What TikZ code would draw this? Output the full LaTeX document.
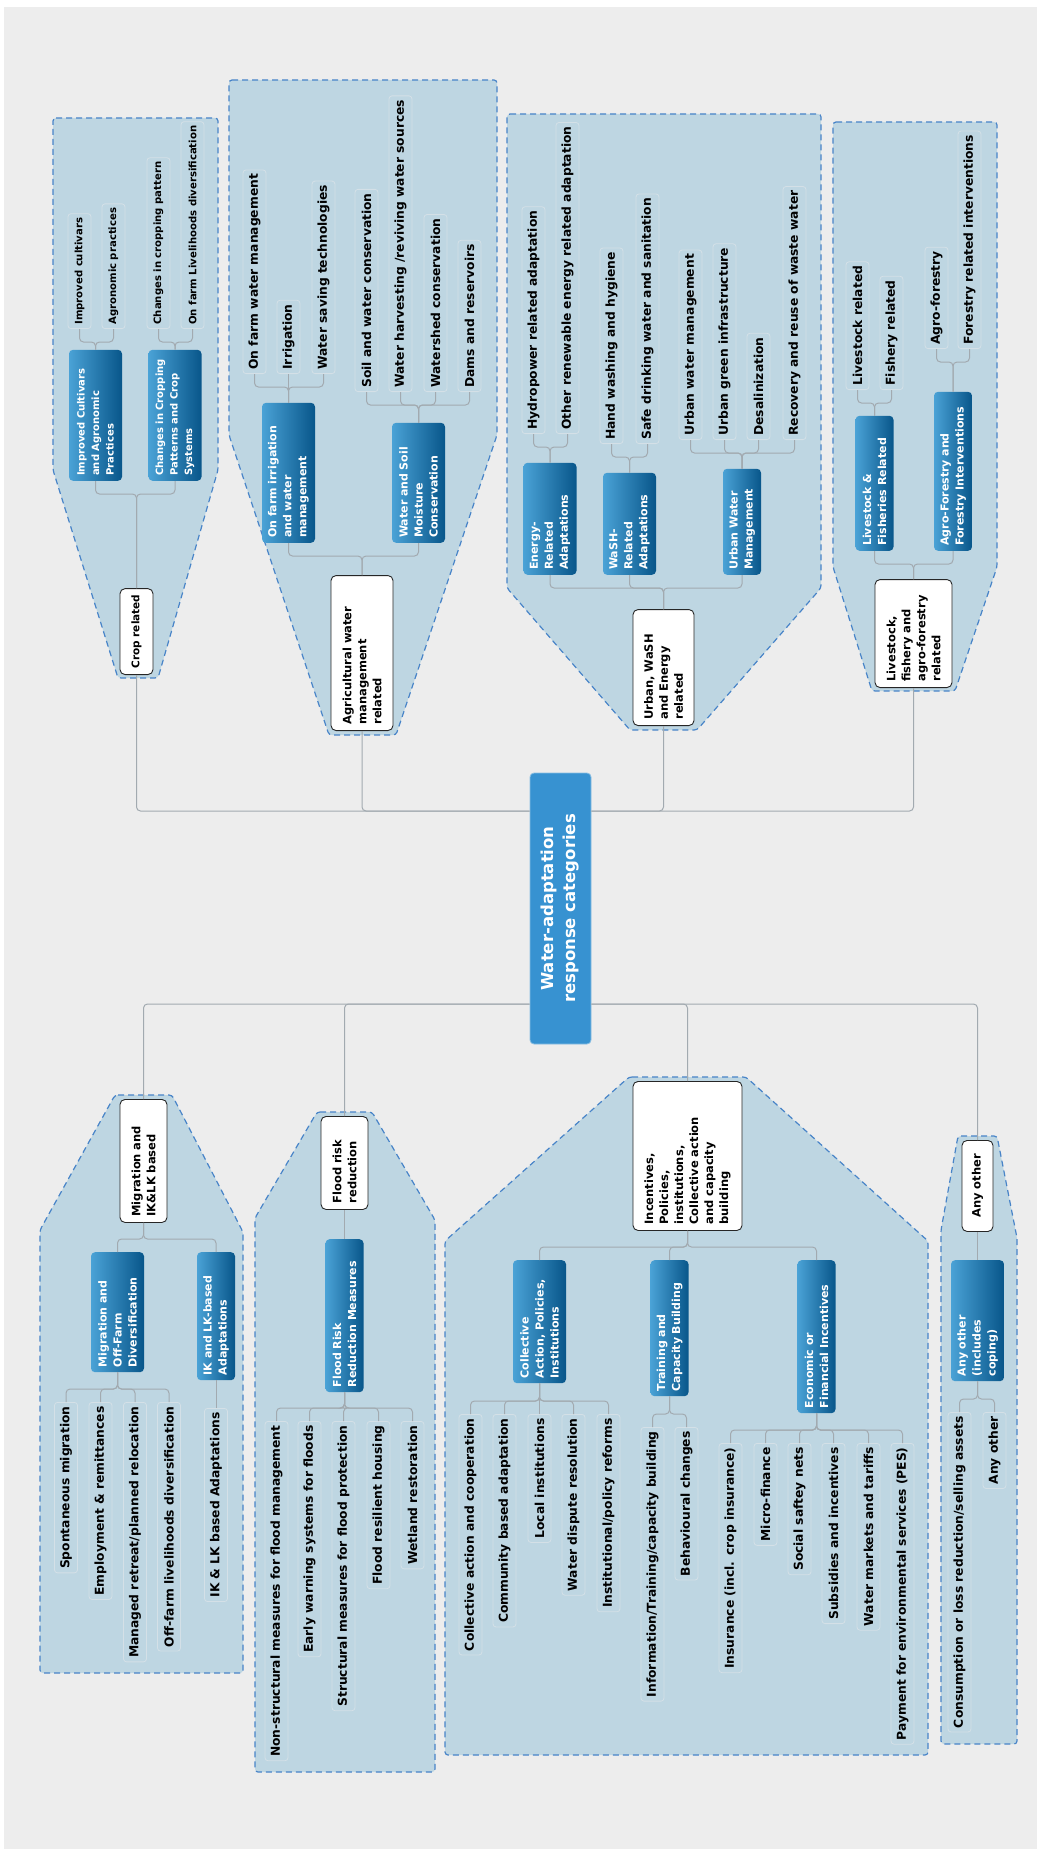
\documentclass[tikz,border=0pt]{standalone}
\usepackage{fontspec}
\setmainfont{DejaVu Sans}
\usetikzlibrary{calc}

\definecolor{bggray}{RGB}{237,237,237}
\definecolor{zonefill}{RGB}{190,214,226}
\definecolor{zoneline}{RGB}{72,132,200}
\definecolor{leafline}{RGB}{212,224,231}
\definecolor{linkgray}{RGB}{162,170,176}
\definecolor{hubblue}{RGB}{55,146,209}
\definecolor{catlight}{RGB}{74,162,214}
\definecolor{catdark}{RGB}{8,86,138}

\begin{document}
\begin{tikzpicture}[x=1pt,y=-1pt,
  zone/.style={draw=zoneline,fill=zonefill,line width=1.2pt,dash pattern=on 6pt off 4pt,rounded corners=3pt},
  link/.style={draw=linkgray,line width=1pt,rounded corners=4pt},
  hub/.style={rotate=90,fill=hubblue,draw=hubblue!60!white,line width=0.8pt,rounded corners=4pt,text=white,
    align=center,font=\bfseries\fontsize{16.5}{22}\selectfont,minimum width=271pt,minimum height=61pt},
  topic/.style={rotate=90,fill=white,draw=black!85,line width=0.9pt,rounded corners=5pt,align=left,
    font=\bfseries\fontsize{11.5}{15}\selectfont,inner xsep=6pt,inner ysep=0pt},
  cat/.style={rotate=90,left color=catlight,right color=catdark,rounded corners=4pt,text=white,align=left,
    font=\bfseries\fontsize{11}{15}\selectfont,inner xsep=5pt,inner ysep=0pt,minimum height=53pt},
  cat2/.style={cat,minimum height=38pt},
  catsmall/.style={cat,font=\bfseries\fontsize{10}{14.5}\selectfont},
  leafbox/.style={rotate=90,draw=leafline,fill=zonefill,line width=0.8pt,rounded corners=3pt,
    font=\bfseries\fontsize{12.3}{14}\selectfont,inner xsep=4pt,inner ysep=0pt,minimum height=23pt},
  leafsmall/.style={leafbox,font=\bfseries\fontsize{10.1}{12}\selectfont},
  stand/.style={anchor=west},
  hang/.style={anchor=east}]

  \useasboundingbox (0,0) rectangle (1037,1849);
  \fill[white] (0,0) rectangle (1037,1849);
  \fill[bggray] (4,7) rectangle (1037,1849);

  % dashed zones
  \draw[zone] (53,118) -- (218,118) -- (218,470) -- (158,678) -- (118,678) -- (53,470) -- cycle;
  \draw[zone] (229,80) -- (497,80) -- (497,435) -- (396,735) -- (329,735) -- (229,435) -- cycle;
  \draw[zone] (507,114) -- (821,114) -- (821,588) -- (697,730) -- (630,730) -- (507,588) -- cycle;
  \draw[zone] (833,122) -- (997,122) -- (997,567) -- (955,691) -- (872,691) -- (833,567) -- cycle;
  \draw[zone] (115,1095) -- (172,1095) -- (243,1232) -- (243,1673) -- (40,1673) -- (40,1230) -- cycle;
  \draw[zone] (317,1112) -- (372,1112) -- (435,1220) -- (435,1772) -- (255,1772) -- (255,1218) -- cycle;
  \draw[zone] (629,1077) -- (746,1077) -- (928,1241) -- (928,1755) -- (445,1755) -- (445,1241) -- cycle;
  \draw[zone] (958,1136) -- (997,1136) -- (1017,1238) -- (1017,1744) -- (941,1744) -- (941,1230) -- cycle;

  \node[hub] (hub) at (560.5,908.5) {Water-adaptation\\response categories};

  % upper branches
  \node[topic,stand,minimum width=77pt,minimum height=33pt,font=\bfseries\fontsize{10.5}{14}\selectfont]
    (crop) at (136.5,675) {Crop related};
  \node[topic,stand,text width=143pt,minimum height=62pt] (agri) at (362,731) {Agricultural water\\management\\related};
  \node[topic,stand,text width=104pt,minimum height=61pt] (urban) at (663.5,726) {Urban, WaSH\\and Energy\\related};
  \node[topic,stand,text width=96pt,minimum height=77pt] (stock) at (913.5,688) {Livestock,\\fishery and\\agro-forestry\\related};

  \node[catsmall,stand,text width=121pt] (icap) at (95.5,481) {Improved Cultivars\\and Agronomic\\Practices};
  \node[catsmall,stand,text width=121pt] (ccp) at (175,481) {Changes in Cropping\\Patterns and Crop\\Systems};
  \node[cat,stand,text width=130pt] (ofi) at (288.5,543) {On farm irrigation\\and water\\management};
  \node[cat,stand,text width=110pt] (wsm) at (418.5,543) {Water and Soil\\Moisture\\Conservation};
  \node[cat,stand,text width=102pt] (era) at (550,575) {Energy-\\Related\\Adaptations};
  \node[cat,stand,text width=92pt] (wra) at (629.5,575) {WaSH-\\Related\\Adaptations};
  \node[cat2,stand,text width=96pt] (uwm) at (742,575) {Urban Water\\Management};
  \node[cat2,stand,text width=125pt] (lfr) at (874.5,551) {Livestock \&\\Fisheries Related};
  \node[cat2,stand,text width=149pt] (afi) at (953,551) {Agro-Forestry and\\Forestry Interventions};

  \node[leafsmall,stand] (a1) at (79.5,329) {Improved cultivars};
  \node[leafsmall,stand] (a2) at (113.5,329) {Agronomic practices};
  \node[leafsmall,stand] (a3) at (158.5,329) {Changes in cropping pattern};
  \node[leafsmall,stand] (a4) at (192.5,329) {On farm Livelihoods diversification};
  \node[leafbox,stand] (b1) at (254.5,374) {On farm water management};
  \node[leafbox,stand] (b2) at (288.5,374) {Irrigation};
  \node[leafbox,stand] (b3) at (323.5,374) {Water saving technologies};
  \node[leafbox,stand] (b4) at (366.5,392) {Soil and water conservation};
  \node[leafbox,stand] (b5) at (400.5,392) {Water harvesting /reviving water sources};
  \node[leafbox,stand] (b6) at (435.5,392) {Watershed conservation};
  \node[leafbox,stand] (b7) at (469.5,392) {Dams and reservoirs};
  \node[leafbox,stand] (c1) at (533.5,434) {Hydropower related adaptation};
  \node[leafbox,stand] (c2) at (567.5,434) {Other renewable energy related adaptation};
  \node[leafbox,stand] (c3) at (611.5,444) {Hand washing and hygiene};
  \node[leafbox,stand] (c4) at (647.5,444) {Safe drinking water and sanitation};
  \node[leafbox,stand] (c5) at (690.5,440) {Urban water management};
  \node[leafbox,stand] (c6) at (724.5,440) {Urban green infrastructure};
  \node[leafbox,stand] (c7) at (758.5,440) {Desalinization};
  \node[leafbox,stand] (c8) at (794.5,440) {Recovery and reuse of waste water};
  \node[leafbox,stand] (d1) at (857.5,390) {Livestock related};
  \node[leafbox,stand] (d2) at (891.5,390) {Fishery related};
  \node[leafbox,stand] (d3) at (936.5,349) {Agro-forestry};
  \node[leafbox,stand] (d4) at (969.5,349) {Forestry related interventions};

  % lower branches
  \node[topic,hang,text width=111pt,minimum height=47pt] (mig) at (143.5,1099) {Migration and\\IK\&LK based};
  \node[topic,hang,text width=81pt,minimum height=47pt] (flood) at (344.5,1116) {Flood risk\\reduction};
  \node[topic,hang,text width=137pt,minimum height=109pt] (incent) at (687.5,1081)
    {Incentives,\\Policies,\\institutions,\\Collective action\\and capacity\\building};
  \node[topic,hang,minimum width=91pt,minimum height=31pt] (other) at (977.5,1140) {Any other};

  \node[cat,hang,text width=110pt] (mofd) at (117.5,1252) {Migration and\\Off-Farm\\Diversification};
  \node[cat2,hang,text width=118pt] (ikla) at (216,1252) {IK and LK-based\\Adaptations};
  \node[cat2,hang,text width=143pt] (frm) at (344.5,1239) {Flood Risk\\Reduction Measures};
  \node[cat,hang,text width=113pt] (capi) at (539.5,1260) {Collective\\Action, Policies,\\Institutions};
  \node[cat2,hang,text width=126pt] (tcb) at (669.5,1260) {Training and\\Capacity Building};
  \node[cat2,hang,text width=143pt] (efi) at (816.5,1260) {Economic or\\Financial Incentives};
  \node[cat,hang,text width=111pt] (aoc) at (977.5,1260) {Any other\\(includes\\coping)};

  \node[leafbox,hang] (e1) at (66,1402) {Spontaneous migration};
  \node[leafbox,hang] (e2) at (100.5,1402) {Employment \& remittances};
  \node[leafbox,hang] (e3) at (135,1402) {Managed retreat/planned relocation};
  \node[leafbox,hang] (e4) at (169,1402) {Off-farm livelihoods diversification};
  \node[leafbox,hang] (e5) at (216,1408) {IK \& LK based Adaptations};
  \node[leafbox,hang] (f1) at (276.5,1421) {Non-structural measures for flood management};
  \node[leafbox,hang] (f2) at (309.5,1421) {Early warning systems for floods};
  \node[leafbox,hang] (f3) at (343.5,1421) {Structural measures for flood protection};
  \node[leafbox,hang] (f4) at (378.5,1421) {Flood resilient housing};
  \node[leafbox,hang] (f5) at (412.5,1421) {Wetland restoration};
  \node[leafbox,hang] (g1) at (470.5,1414) {Collective action and cooperation};
  \node[leafbox,hang] (g2) at (504.5,1414) {Community based adaptation};
  \node[leafbox,hang] (g3) at (539.5,1414) {Local institutions};
  \node[leafbox,hang] (g4) at (573.5,1414) {Water dispute resolution};
  \node[leafbox,hang] (g5) at (608.5,1414) {Institutional/policy reforms};
  \node[leafbox,hang] (g6) at (652.5,1427) {Information/Training/capacity building};
  \node[leafbox,hang] (g7) at (686.5,1427) {Behavioural changes};
  \node[leafbox,hang] (g8) at (730.5,1443) {Insurance (incl. crop insurance)};
  \node[leafbox,hang] (g9) at (765.5,1443) {Micro-finance};
  \node[leafbox,hang] (g10) at (799.5,1443) {Social saftey nets};
  \node[leafbox,hang] (g11) at (833.5,1443) {Subsidies and incentives};
  \node[leafbox,hang] (g12) at (868.5,1443) {Water markets and tariffs};
  \node[leafbox,hang] (g13) at (902.5,1443) {Payment for environmental services (PES)};
  \node[leafbox,hang] (h1) at (959.5,1412) {Consumption or loss reduction/selling assets};
  \node[leafbox,hang] (h2) at (994.5,1412) {Any other};

  % connectors, upper half (child foot -> parent head)
  \foreach \c/\p in {a1/icap,a2/icap,a3/ccp,a4/ccp,icap/crop,ccp/crop,
      b1/ofi,b2/ofi,b3/ofi,b4/wsm,b5/wsm,b6/wsm,b7/wsm,ofi/agri,wsm/agri,
      c1/era,c2/era,c3/wra,c4/wra,c5/uwm,c6/uwm,c7/uwm,c8/uwm,era/urban,wra/urban,uwm/urban,
      d1/lfr,d2/lfr,d3/afi,d4/afi,lfr/stock,afi/stock}
    \draw[link] (\c.west) |- ($(\p.west |- \c.west)+(0,13)$) -- (\p.east);

  % connectors, lower half (child head -> parent foot)
  \foreach \c/\p in {e1/mofd,e2/mofd,e3/mofd,e4/mofd,mofd/mig,ikla/mig,
      f1/frm,f2/frm,f3/frm,f4/frm,f5/frm,
      g1/capi,g2/capi,g3/capi,g4/capi,g5/capi,g6/tcb,g7/tcb,
      g8/efi,g9/efi,g10/efi,g11/efi,g12/efi,g13/efi,capi/incent,tcb/incent,efi/incent,
      h1/aoc,h2/aoc}
    \draw[link] (\c.east) |- ($(\p.east |- \c.east)+(0,-13)$) -- (\p.west);
  \foreach \c/\p in {e5/ikla,frm/flood,aoc/other}
    \draw[link] (\c.east) -- (\p.west);

  % main branches
  \foreach \t in {crop,agri} \draw[link] (\t.west) |- (hub.north |- 0,811);
  \foreach \t in {urban,stock} \draw[link] (\t.west) |- (hub.south |- 0,811);
  \foreach \t in {mig,flood} \draw[link] (\t.east) |- (hub.north |- 0,1004);
  \foreach \t in {incent,other} \draw[link] (\t.east) |- (hub.south |- 0,1004);
\end{tikzpicture}
\end{document}
